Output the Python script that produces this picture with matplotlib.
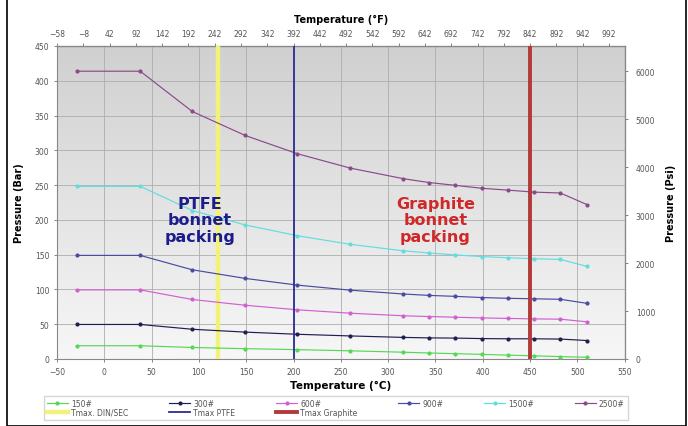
import numpy as np
import matplotlib
matplotlib.use("Agg")
import matplotlib.pyplot as plt
from matplotlib.patches import Rectangle
from matplotlib.colors import LinearSegmentedColormap

# ---- data ----
temps_c = [-29, 38, 93, 149, 204, 260, 316, 343, 371, 399, 427, 454, 482, 510]
p150 = [19.0, 19.0, 16.5, 14.8, 13.4, 11.7, 9.7, 8.6, 7.6, 6.6, 5.5, 4.5, 3.4, 2.4]
p300 = [49.6, 49.6, 42.7, 38.6, 35.5, 33.1, 31.0, 30.3, 30.0, 29.3, 29.0, 29.0, 28.6, 26.5]
p600 = [99.3, 99.3, 85.5, 77.2, 70.7, 65.8, 62.1, 61.0, 60.0, 59.0, 58.3, 57.6, 57.2, 53.4]
p900 = [148.9, 148.9, 128.2, 115.8, 106.2, 98.9, 93.4, 91.4, 90.0, 88.3, 87.2, 86.5, 85.8, 80.0]
p1500 = [248.2, 248.2, 213.4, 192.7, 177.2, 164.8, 155.5, 152.4, 149.6, 147.2, 145.5, 144.1, 143.1, 133.1]
p2500 = [413.7, 413.7, 355.8, 321.3, 295.1, 274.4, 259.2, 253.7, 249.6, 245.4, 242.7, 239.9, 238.6, 222.0]
series_names = ["150#", "300#", "600#", "900#", "1500#", "2500#"]
tmax_din = 120
tmax_ptfe = 200
tmax_graphite = 450
x_ticks_c = list(range(-50, 551, 50))
top_ticks_f = list(range(-58, 993, 50))
y_ticks_bar = list(range(0, 451, 50))
y_ticks_psi = list(range(0, 6001, 1000))

PSI_PER_BAR = 14.5038

fig = plt.figure(figsize=(6.88, 4.27), dpi=100)
ax = fig.add_axes([0.0828, 0.157, 0.8252, 0.733])

# background gradient
grad = np.linspace(0, 1, 256).reshape(-1, 1)
cmap = LinearSegmentedColormap.from_list("bg", ["#d0d0d0", "#f7f7f7"])
ax.imshow(grad, extent=[0, 1, 0, 1], transform=ax.transAxes, cmap=cmap,
          aspect="auto", zorder=0, origin="upper")

ax.set_xlim(-50, 550)
ax.set_ylim(0, 450)
ax.set_xticks(x_ticks_c)
ax.set_yticks(y_ticks_bar)
ax.grid(True, color="#adadad", lw=0.6, zorder=1)
ax.set_axisbelow(True)

colors = ["#55d855", "#1e1e50", "#d060d0", "#4a4aa0", "#60dede", "#8a4a8a"]
data = [p150, p300, p600, p900, p1500, p2500]
handles = {}
for name, vals, c in zip(series_names, data, colors):
    h, = ax.plot(temps_c, vals, color=c, lw=0.85, marker="o", ms=2.0, zorder=4, label=name)
    handles[name] = h

hd = ax.axvline(tmax_din, color="#f2f27a", lw=3.2, zorder=3, label="Tmax. DIN/SEC")
hp = ax.axvline(tmax_ptfe, color="#2c2c94", lw=1.3, zorder=5, label="Tmax PTFE")
hg = ax.axvline(tmax_graphite, color="#b23a3a", lw=2.8, zorder=5, label="Tmax Graphite")

ax.text(101, 200, "PTFE\nbonnet\npacking", color="#1c1c8a", fontsize=11.5,
        fontweight="bold", ha="center", va="center", linespacing=1.15, zorder=6)
ax.text(350, 200, "Graphite\nbonnet\npacking", color="#d02828", fontsize=11.5,
        fontweight="bold", ha="center", va="center", linespacing=1.15, zorder=6)

for sp in ax.spines.values():
    sp.set_color("#888888")
    sp.set_linewidth(0.8)

ax.tick_params(labelsize=5.5, colors="#555555", length=2, width=0.5)
ax.set_xlabel("Temperature (°C)", fontsize=7.5, fontweight="bold", labelpad=3)
ax.set_ylabel("Pressure (Bar)", fontsize=7, fontweight="bold", labelpad=8)

secx = ax.secondary_xaxis("top", functions=(lambda c: c * 9 / 5 + 32, lambda f: (f - 32) * 5 / 9))
secx.set_xticks(top_ticks_f)
secx.tick_params(labelsize=5.5, colors="#555555", length=2, width=0.5)
secx.set_xlabel("Temperature (°F)", fontsize=7, fontweight="bold", labelpad=5)

secy = ax.secondary_yaxis("right", functions=(lambda b: b * PSI_PER_BAR, lambda p: p / PSI_PER_BAR))
secy.set_yticks(y_ticks_psi)
secy.tick_params(labelsize=5.5, colors="#555555", length=2, width=0.5, pad=6)
secy.set_ylabel("Pressure (Psi)", fontsize=7, fontweight="bold", labelpad=8)

order = [handles["150#"], hd, handles["300#"], hp, handles["600#"], hg,
         handles["900#"], handles["1500#"], handles["2500#"]]
leg = fig.legend(handles=order, labels=[h.get_label() for h in order],
                 loc="lower left", bbox_to_anchor=(0.058, 0.006, 0.86, 0.045),
                 mode="expand", ncol=6,
                 fontsize=5.5, frameon=True, fancybox=False, edgecolor="#cccccc",
                 handlelength=2.8, handletextpad=0.4,
                 labelspacing=0.0, borderpad=0.4)
for t in leg.get_texts():
    t.set_color("#555555")

fig.patches.append(Rectangle((0.01, 0.0), 0.987, 0.999, transform=fig.transFigure,
                             fill=False, edgecolor="black", lw=1.2))

fig.savefig("out.png", dpi=100)
